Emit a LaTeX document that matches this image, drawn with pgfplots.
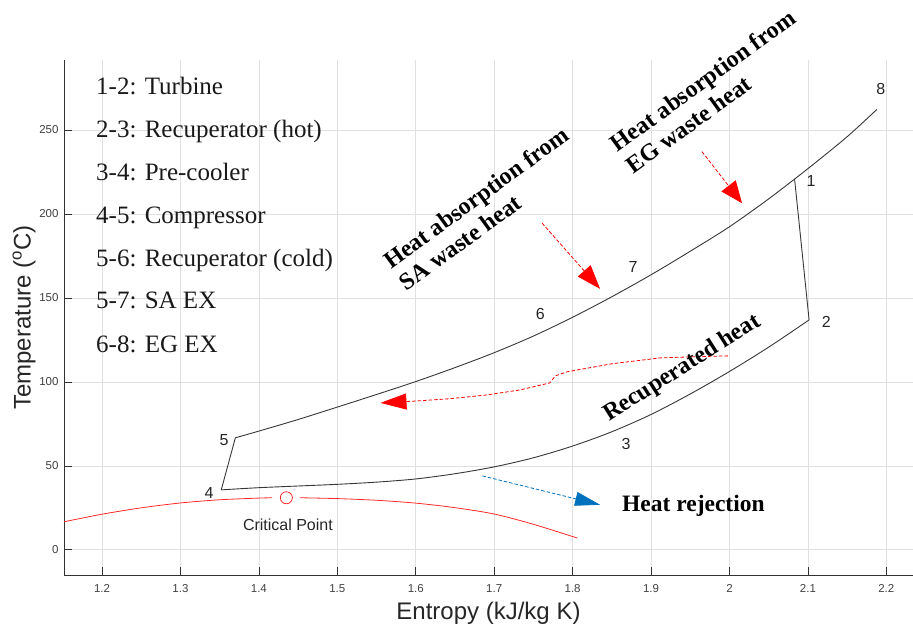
\documentclass[border=0pt]{standalone}
\usepackage{fontspec}
\setmainfont{Liberation Sans}
\newfontfamily\tnr{Liberation Serif}
\usepackage{pgfplots}
\pgfplotsset{compat=1.18}
\usetikzlibrary{arrows.meta}
\definecolor{mblue}{RGB}{0,114,189}
\definecolor{cyc}{RGB}{55,55,55}
\definecolor{dome}{RGB}{255,40,40}
\begin{document}
\begin{tikzpicture}
\begin{axis}[
  scale only axis, width=849pt, height=515pt,
  xmin=1.1515, xmax=2.234, ymin=-15, ymax=291.7,
  axis x line*=bottom, axis y line*=left,
  axis line style={black!80, line width=0.8pt, -},
  xtick={1.2,1.3,1.4,1.5,1.6,1.7,1.8,1.9,2,2.1,2.2},
  ytick={0,50,100,150,200,250},
  grid=major, major grid style={black!12, line width=0.7pt},
  tick align=inside, major tick length=8pt,
  tick style={black!80, line width=0.7pt},
  ticklabel style={font=\fontsize{11.5}{13}\selectfont, text=black!75},
  xticklabel style={yshift=-6pt},
  yticklabel style={xshift=-2pt},
  /pgf/number format/assume math mode=true,
  xlabel={Entropy (kJ/kg K)},
  ylabel={Temperature (\textsuperscript{o}C)},
  label style={font=\fontsize{24}{28}\selectfont, text=black!85},
  xlabel style={at={(axis description cs:0.5,-0.0738)}, anchor=center},
  ylabel style={at={(axis description cs:-0.047,0.5)}, anchor=center},
  clip=false,
]
\coordinate (SW) at (rel axis cs:0,0);
\coordinate (NE) at (rel axis cs:1,1);

% saturation dome
\addplot[dome, line width=0.8pt, smooth] coordinates {
  (1.1515,16.7) (1.2,21.2) (1.25,25) (1.3,27.9) (1.35,29.8) (1.4,30.8) (1.417,31)};
\addplot[dome, line width=0.8pt, smooth] coordinates {
  (1.452,31) (1.5,30.5) (1.55,29.5) (1.6,27.8) (1.65,25.1) (1.7,21.3) (1.75,15.2) (1.806,7)};
\addplot[only marks, mark=o, mark size=6pt, dome, mark options={fill=white, line width=0.8pt}] coordinates {(1.435,31)};

% cycle: 4-5
\addplot[cyc, line width=0.9pt] coordinates {(1.352,35.7) (1.370,66.7)};
% upper curve 5-6-7-1-8
\addplot[cyc, line width=0.9pt, smooth] coordinates {
  (1.370,66.7) (1.40,70.7) (1.45,77.6) (1.50,85) (1.55,92.5) (1.60,100.2) (1.65,108.5)
  (1.70,117.4) (1.75,127.3) (1.80,138.5) (1.85,150.7) (1.90,163.8) (1.95,177.8)
  (2.00,192.4) (2.05,209) (2.10,227) (2.15,246) (2.188,262.3)};
% 1-2 turbine
\addplot[cyc, line width=0.9pt] coordinates {(2.083,220.9) (2.1015,136.9)};
% lower curve 2-3-4
\addplot[cyc, line width=0.9pt, smooth] coordinates {
  (2.1015,136.9) (2.05,120.7) (2.00,106.2) (1.95,92.8) (1.90,80.6) (1.85,70.3) (1.80,61.8)
  (1.75,54.8) (1.70,49.4) (1.65,45.3) (1.60,42.2) (1.55,40.3) (1.50,39) (1.45,38) (1.40,37) (1.352,35.7)};

% arrows
\addplot[red, line width=0.8pt, dash pattern=on 3.5pt off 2pt, -{Triangle[length=26pt,width=16pt]}] coordinates {
  (1.998,115.5) (1.95,114.9) (1.912,114.3) (1.85,110.8) (1.793,106) (1.778,103.6) (1.771,99.4)
  (1.733,95.2) (1.69,92.2) (1.644,90) (1.6,88.6) (1.555,87.5)};
\addplot[red, line width=0.8pt, dash pattern=on 3.5pt off 2pt, -{Triangle[length=24pt,width=17pt]}] coordinates {
  (1.761,194.6) (1.835,155.4)};
\addplot[red, line width=0.8pt, dash pattern=on 3.5pt off 2pt, -{Triangle[length=22pt,width=18pt]}] coordinates {
  (1.965,237.1) (2.016,206.4)};
\addplot[mblue, line width=0.8pt, dash pattern=on 3.5pt off 2pt, -{Triangle[length=25pt,width=14pt]}] coordinates {
  (1.685,44) (1.835,26.8)};

% point labels
\begin{scope}[every node/.style={font=\fontsize{16}{18}\selectfont, text=black!85}]
\node at (axis cs:2.104,219.6) {1};
\node at (axis cs:2.1235,135.7) {2};
\node at (axis cs:1.868,63.1) {3};
\node at (axis cs:1.3365,33.9) {4};
\node at (axis cs:1.3556,65.5) {5};
\node at (axis cs:1.7587,140.5) {6};
\node at (axis cs:1.877,168.5) {7};
\node at (axis cs:2.193,274.2) {8};
\node at (axis cs:1.437,14.9) {Critical Point};
\end{scope}

% annotations
\begin{scope}[every node/.style={font=\tnr\bfseries\fontsize{24}{27}\selectfont, align=left, inner sep=0pt}]
\node[rotate=36] at (axis cs:1.687,203.3) {Heat absorption from\\SA waste heat};
\node[rotate=36] at (axis cs:1.976,273) {Heat absorption from\\EG waste heat};
\node[rotate=32.4] at (axis cs:1.94,108) {Recuperated heat};
\node[font=\tnr\bfseries\fontsize{23.5}{27}\selectfont] at (axis cs:1.954,26.2) {Heat rejection};
\end{scope}

% process list
\begin{scope}[every node/.style={font=\tnr\fontsize{25}{30}\selectfont, anchor=base west, inner sep=0pt, text=black!90}]
\node at (axis cs:1.1923,271.4) {1-2: Turbine};
\node at (axis cs:1.1923,245.8) {2-3: Recuperator (hot)};
\node at (axis cs:1.1923,220.2) {3-4: Pre-cooler};
\node at (axis cs:1.1923,194.6) {4-5: Compressor};
\node at (axis cs:1.1923,169.0) {5-6: Recuperator (cold)};
\node at (axis cs:1.1923,143.5) {5-7: SA EX};
\node at (axis cs:1.1923,117.3) {6-8: EG EX};
\end{scope}
\end{axis}
\pgfresetboundingbox
\path ([xshift=-64pt,yshift=-59pt]SW) rectangle ([yshift=60pt]NE);
\end{tikzpicture}
\end{document}
